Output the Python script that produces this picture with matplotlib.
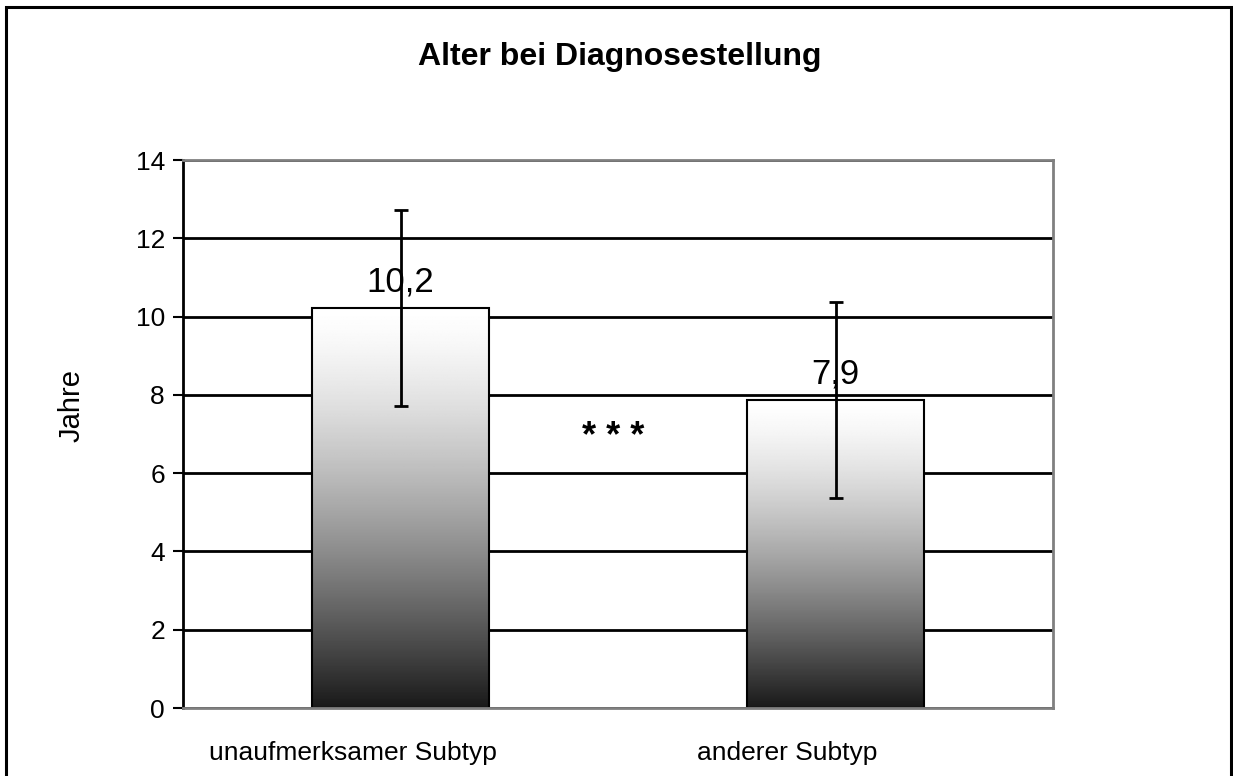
import numpy as np
import matplotlib
matplotlib.use("Agg")
import matplotlib.pyplot as plt
from matplotlib.patches import Rectangle
from matplotlib.transforms import ScaledTranslation

plt.rcParams['font.family'] = ['Liberation Sans', 'DejaVu Sans']

categories = ['unaufmerksamer Subtyp', 'anderer Subtyp']
means = [10.22, 7.87]
errors = [2.5, 2.5]
yticks = [0, 2, 4, 6, 8, 10, 12, 14]

fig = plt.figure(figsize=(12.33, 7.76), dpi=100)
ax = fig.add_axes([183 / 1233, 1 - 708 / 776, 870 / 1233, 548 / 776])

x = np.arange(len(categories))
width = 0.405

# gradient: white top -> near black bottom
grad = np.linspace(0, 1, 256) ** 1.4
grad = (1 - grad * 0.9)[:, None]

bars = ax.bar(x, means, width, facecolor='none', edgecolor='black',
              linewidth=1.5, zorder=3)
for b in bars:
    im = ax.imshow(grad, cmap='gray', vmin=0, vmax=1, aspect='auto',
                   extent=[b.get_x(), b.get_x() + b.get_width(), 0, b.get_height()],
                   zorder=2, interpolation='bilinear')
    im.set_clip_path(b)

ax.errorbar(x, means, yerr=errors, fmt='none', ecolor='black',
            elinewidth=2, capsize=5, capthick=2, zorder=4)

for xi, m in zip(x, means):
    ax.annotate(f"{m:.1f}".replace('.', ','), (xi, m), xytext=(0, 12),
                textcoords='offset points', ha='center', va='baseline',
                fontsize=25)

ax.text(0.49, 6.9, '* * *', ha='center', va='center', fontsize=26,
        fontweight='bold')

ax.set_xlim(-0.5, 1.5)
ax.set_ylim(0, 14)
ax.set_yticks(yticks)
ax.set_xticks(x)
ax.set_xticklabels(categories)
ax.tick_params(axis='y', length=7, width=1.5, labelsize=19, pad=6)
ax.tick_params(axis='x', length=0, labelsize=19, pad=24)
shift = ScaledTranslation(-48 / 100, 0, fig.dpi_scale_trans)
for lbl in ax.get_xticklabels():
    lbl.set_transform(lbl.get_transform() + shift)

ax.set_axisbelow(True)
ax.yaxis.grid(True, color='black', linewidth=2)
for s in ['top', 'right', 'bottom']:
    ax.spines[s].set_color('#808080')
    ax.spines[s].set_linewidth(2)
    ax.spines[s].set_zorder(5)
ax.spines['left'].set_color('black')
ax.spines['left'].set_linewidth(2)

fig.text(620 / 1233, 1 - 57 / 776, 'Alter bei Diagnosestellung', ha='center',
         va='center', fontsize=23, fontweight='bold')
fig.text(72 / 1233, 1 - 406 / 776, 'Jahre', rotation=90, ha='center',
         va='center', fontsize=21)

fig.patches.append(Rectangle((6 / 1233, -0.05), 1225 / 1233, 1 - 7 / 776 + 0.05,
                             transform=fig.transFigure, fill=False,
                             edgecolor='black', linewidth=2.2))

fig.savefig('out.png', dpi=100)
